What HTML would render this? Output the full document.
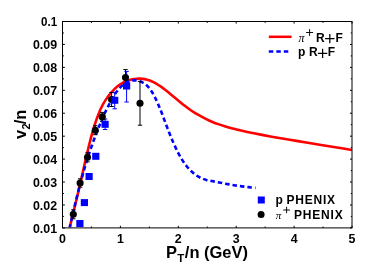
<!DOCTYPE html>
<html><head><meta charset="utf-8"><title>v2/n</title>
<style>
html,body{margin:0;padding:0;background:#fff;}
body{width:374px;height:270px;overflow:hidden;font-family:"Liberation Sans",sans-serif;}
svg{display:block;will-change:transform;}
text{font-family:"Liberation Sans",sans-serif;font-weight:bold;fill:#000;}
.sym{font-family:"Liberation Serif",serif;font-weight:normal;font-style:italic;}
.pl{font-family:"Liberation Sans",sans-serif;font-weight:normal;}
</style></head><body>
<svg width="374" height="270" viewBox="0 0 374 270">
<rect x="0" y="0" width="374" height="270" fill="#fff"/>
<path d="M69.80,227.10 C69.85,226.88 70.00,226.20 70.11,225.74 C70.21,225.28 70.32,224.82 70.43,224.36 C70.54,223.89 70.65,223.42 70.76,222.94 C70.88,222.46 70.99,221.98 71.11,221.48 C71.23,220.99 71.35,220.49 71.48,219.98 C71.60,219.47 71.73,218.96 71.86,218.43 C71.98,217.90 72.12,217.37 72.25,216.82 C72.38,216.27 72.52,215.72 72.66,215.15 C72.80,214.58 72.94,214.00 73.09,213.41 C73.24,212.81 73.39,212.21 73.54,211.59 C73.69,210.97 73.85,210.34 74.00,209.69 C74.16,209.04 74.32,208.38 74.49,207.71 C74.65,207.03 74.82,206.34 75.00,205.63 C75.17,204.92 75.34,204.19 75.52,203.45 C75.70,202.71 75.89,201.95 76.07,201.17 C76.26,200.39 76.45,199.59 76.65,198.77 C76.84,197.96 77.04,197.12 77.24,196.26 C77.45,195.40 77.65,194.53 77.87,193.63 C78.08,192.73 78.29,191.81 78.51,190.87 C78.74,189.92 78.96,188.96 79.19,187.97 C79.42,186.98 79.66,185.97 79.89,184.93 C80.13,183.89 80.38,182.83 80.63,181.74 C80.88,180.66 81.13,179.54 81.39,178.41 C81.65,177.27 81.92,176.10 82.19,174.91 C82.46,173.71 82.74,172.49 83.02,171.25 C83.31,170.00 83.59,168.72 83.89,167.41 C84.18,166.11 84.49,164.76 84.79,163.40 C85.10,162.05 85.41,160.68 85.73,159.29 C86.05,157.90 86.38,156.49 86.71,155.05 C87.05,153.62 87.39,152.17 87.74,150.70 C88.08,149.24 88.44,147.76 88.80,146.27 C89.16,144.79 89.53,143.30 89.91,141.81 C90.29,140.32 90.68,138.82 91.07,137.34 C91.46,135.85 91.87,134.37 92.28,132.91 C92.69,131.45 93.10,130.02 93.53,128.60 C93.96,127.18 94.40,125.77 94.84,124.39 C95.29,123.02 95.74,121.66 96.21,120.34 C96.67,119.02 97.15,117.75 97.63,116.47 C98.12,115.19 98.61,113.91 99.11,112.67 C99.62,111.44 100.13,110.23 100.66,109.08 C101.19,107.93 101.72,106.82 102.27,105.75 C102.82,104.69 103.38,103.67 103.95,102.68 C104.52,101.70 105.10,100.76 105.70,99.86 C106.29,98.96 106.90,98.13 107.52,97.28 C108.14,96.43 108.78,95.56 109.42,94.74 C110.07,93.91 110.73,93.10 111.40,92.34 C112.08,91.57 112.77,90.84 113.47,90.13 C114.17,89.42 114.89,88.74 115.62,88.06 C116.35,87.39 117.10,86.71 117.86,86.07 C118.63,85.44 119.40,84.79 120.20,84.26 C121.00,83.72 121.81,83.30 122.64,82.85 C123.46,82.41 124.31,81.98 125.17,81.60 C126.04,81.22 126.92,80.89 127.82,80.58 C128.72,80.27 129.64,79.99 130.58,79.74 C131.52,79.49 132.47,79.27 133.45,79.10 C134.43,78.93 135.43,78.80 136.45,78.72 C137.47,78.65 138.51,78.62 139.57,78.65 C140.63,78.68 141.71,78.75 142.82,78.89 C143.93,79.04 145.06,79.24 146.21,79.52 C147.37,79.80 148.54,80.14 149.75,80.58 C150.95,81.01 152.18,81.54 153.43,82.15 C154.68,82.76 155.96,83.45 157.27,84.24 C158.57,85.03 159.91,85.92 161.27,86.88 C162.63,87.85 164.02,88.95 165.44,90.05 C166.86,91.15 168.30,92.30 169.78,93.49 C171.26,94.68 172.77,95.91 174.31,97.19 C175.85,98.47 177.43,99.84 179.03,101.17 C180.64,102.50 182.28,103.86 183.95,105.17 C185.63,106.48 187.33,107.81 189.08,109.03 C190.82,110.26 192.60,111.40 194.42,112.52 C196.24,113.63 198.09,114.65 199.99,115.71 C201.89,116.76 203.82,117.83 205.79,118.83 C207.77,119.83 209.78,120.81 211.84,121.69 C213.90,122.58 216.00,123.37 218.15,124.14 C220.29,124.91 222.48,125.62 224.72,126.30 C226.95,126.99 229.24,127.63 231.57,128.25 C233.90,128.88 236.27,129.46 238.70,130.04 C241.13,130.62 243.61,131.17 246.14,131.71 C248.67,132.26 251.26,132.79 253.89,133.31 C256.53,133.84 259.22,134.36 261.97,134.87 C264.72,135.39 267.53,135.90 270.39,136.41 C273.26,136.93 276.18,137.44 279.17,137.96 C282.16,138.48 285.20,139.00 288.32,139.53 C291.43,140.06 294.60,140.59 297.85,141.13 C301.09,141.67 304.40,142.22 307.78,142.78 C311.17,143.34 314.61,143.91 318.14,144.48 C321.66,145.06 325.26,145.65 328.93,146.25 C332.60,146.85 336.35,147.46 340.18,148.09 C344.01,148.71 349.95,149.68 351.90,149.99" fill="none" stroke="#f00" stroke-width="2.6" stroke-linejoin="round"/>
<path d="M69.80,227.30 C69.85,227.10 69.98,226.50 70.07,226.09 C70.17,225.68 70.26,225.27 70.36,224.84 C70.45,224.41 70.55,223.98 70.65,223.54 C70.75,223.09 70.85,222.64 70.96,222.18 C71.06,221.72 71.17,221.26 71.27,220.78 C71.38,220.31 71.49,219.82 71.60,219.33 C71.72,218.83 71.83,218.33 71.94,217.82 C72.06,217.31 72.18,216.79 72.30,216.27 C72.42,215.74 72.54,215.20 72.67,214.66 C72.79,214.11 72.92,213.56 73.05,213.00 C73.18,212.44 73.31,211.87 73.44,211.29 C73.58,210.71 73.71,210.12 73.85,209.52 C73.99,208.93 74.13,208.32 74.28,207.70 C74.42,207.09 74.57,206.47 74.72,205.83 C74.87,205.20 75.02,204.56 75.18,203.91 C75.33,203.26 75.49,202.60 75.65,201.93 C75.82,201.26 75.98,200.58 76.15,199.90 C76.31,199.21 76.48,198.51 76.66,197.81 C76.83,197.10 77.01,196.39 77.19,195.66 C77.37,194.94 77.55,194.21 77.74,193.46 C77.93,192.72 78.12,191.97 78.31,191.21 C78.51,190.45 78.70,189.68 78.90,188.90 C79.10,188.12 79.31,187.33 79.52,186.53 C79.73,185.73 79.94,184.92 80.16,184.10 C80.37,183.29 80.59,182.46 80.82,181.62 C81.04,180.78 81.27,179.94 81.51,179.08 C81.74,178.23 81.98,177.36 82.22,176.48 C82.46,175.61 82.71,174.72 82.96,173.83 C83.21,172.93 83.46,172.03 83.72,171.11 C83.98,170.20 84.25,169.27 84.52,168.34 C84.79,167.41 85.06,166.48 85.34,165.55 C85.63,164.61 85.91,163.69 86.20,162.75 C86.49,161.81 86.79,160.86 87.09,159.91 C87.39,158.95 87.70,157.98 88.01,157.01 C88.32,156.04 88.64,155.06 88.97,154.07 C89.29,153.08 89.62,152.09 89.96,151.09 C90.30,150.08 90.64,149.08 90.99,148.06 C91.34,147.05 91.69,146.03 92.06,145.00 C92.42,143.97 92.79,142.92 93.17,141.87 C93.54,140.82 93.92,139.77 94.31,138.71 C94.71,137.66 95.10,136.59 95.51,135.52 C95.91,134.46 96.32,133.39 96.74,132.31 C97.17,131.23 97.59,130.15 98.03,129.07 C98.46,127.99 98.91,126.91 99.36,125.81 C99.81,124.71 100.27,123.60 100.74,122.47 C101.21,121.35 101.69,120.20 102.18,119.06 C102.66,117.93 103.16,116.80 103.66,115.67 C104.17,114.55 104.68,113.42 105.21,112.31 C105.73,111.20 106.26,110.11 106.81,109.01 C107.35,107.91 107.90,106.83 108.47,105.72 C109.03,104.61 109.61,103.46 110.19,102.36 C110.78,101.25 111.37,100.17 111.98,99.11 C112.59,98.04 113.20,97.00 113.83,95.99 C114.46,94.98 115.10,94.00 115.76,93.07 C116.41,92.13 117.08,91.24 117.75,90.37 C118.43,89.51 119.12,88.65 119.83,87.89 C120.53,87.13 121.25,86.47 121.98,85.83 C122.70,85.19 123.45,84.59 124.20,84.05 C124.96,83.51 125.73,83.02 126.52,82.59 C127.30,82.16 128.10,81.78 128.92,81.47 C129.73,81.16 130.56,80.90 131.41,80.72 C132.25,80.55 133.11,80.43 133.99,80.40 C134.87,80.37 135.76,80.41 136.67,80.53 C137.58,80.66 138.51,80.85 139.45,81.15 C140.40,81.45 141.36,81.80 142.34,82.32 C143.32,82.84 144.31,83.43 145.33,84.25 C146.34,85.06 147.38,86.00 148.43,87.21 C149.49,88.41 150.56,89.79 151.66,91.47 C152.75,93.16 153.86,95.09 155.00,97.32 C156.13,99.56 157.29,102.15 158.46,104.89 C159.64,107.64 160.84,110.64 162.06,113.79 C163.28,116.93 164.53,120.42 165.79,123.76 C167.06,127.10 168.35,130.56 169.67,133.84 C170.98,137.12 172.32,140.37 173.68,143.43 C175.05,146.49 176.44,149.45 177.85,152.19 C179.27,154.93 180.71,157.54 182.18,159.88 C183.64,162.21 185.14,164.30 186.66,166.20 C188.19,168.09 189.74,169.73 191.32,171.24 C192.90,172.75 194.51,174.13 196.15,175.26 C197.79,176.40 199.45,177.28 201.16,178.05 C202.86,178.81 204.59,179.39 206.35,179.88 C208.12,180.37 209.92,180.64 211.75,181.01 C213.58,181.38 215.44,181.72 217.34,182.10 C219.24,182.48 221.17,182.90 223.15,183.28 C225.12,183.66 227.12,184.03 229.17,184.39 C231.21,184.74 233.29,185.09 235.42,185.41 C237.54,185.74 239.70,186.05 241.90,186.34 C244.10,186.63 246.34,186.91 248.62,187.16 C250.91,187.41 254.44,187.74 255.60,187.86" fill="none" stroke="#00f" stroke-width="2.6" stroke-dasharray="4.5 3" stroke-dashoffset="1.3" stroke-linejoin="round"/>
<path d="M105.1,119.0V129.5M102.9,119.0H107.3M102.9,129.5H107.3" stroke="#00f" stroke-width="1" fill="none"/>
<path d="M114.7,92.3V108.8M112.5,92.3H116.9M112.5,108.8H116.9" stroke="#00f" stroke-width="1" fill="none"/>
<path d="M126.6,71.4V102.0M124.4,71.4H128.8M124.4,102.0H128.8" stroke="#00f" stroke-width="1" fill="none"/>
<path d="M73.3,209.8V218.8M71.1,209.8H75.5M71.1,218.8H75.5" stroke="#000" stroke-width="1" fill="none"/>
<circle cx="73.3" cy="214.3" r="3.55" fill="#000"/>
<path d="M80.1,178.8V187.2M77.9,178.8H82.3M77.9,187.2H82.3" stroke="#000" stroke-width="1" fill="none"/>
<circle cx="80.1" cy="183.0" r="3.55" fill="#000"/>
<path d="M87.5,152.8V161.8M85.3,152.8H89.7M85.3,161.8H89.7" stroke="#000" stroke-width="1" fill="none"/>
<circle cx="87.5" cy="157.3" r="3.55" fill="#000"/>
<path d="M95.3,125.7V134.7M93.1,125.7H97.5M93.1,134.7H97.5" stroke="#000" stroke-width="1" fill="none"/>
<circle cx="95.3" cy="130.2" r="3.55" fill="#000"/>
<path d="M102.3,112.4V121.4M100.1,112.4H104.5M100.1,121.4H104.5" stroke="#000" stroke-width="1" fill="none"/>
<circle cx="102.3" cy="116.9" r="3.55" fill="#000"/>
<path d="M111.6,92.5V106.5M109.4,92.5H113.8M109.4,106.5H113.8" stroke="#000" stroke-width="1" fill="none"/>
<circle cx="111.6" cy="99.5" r="3.55" fill="#000"/>
<path d="M125.5,69.6V85.6M123.3,69.6H127.7M123.3,85.6H127.7" stroke="#000" stroke-width="1" fill="none"/>
<circle cx="125.5" cy="77.6" r="3.55" fill="#000"/>
<path d="M140.0,81.4V125.2M137.8,81.4H142.2M137.8,125.2H142.2" stroke="#000" stroke-width="1" fill="none"/>
<circle cx="140.0" cy="103.3" r="3.55" fill="#000"/>
<rect x="76.3" y="220.0" width="7.2" height="7" fill="#00f"/>
<rect x="80.8" y="199.1" width="7.2" height="7" fill="#00f"/>
<rect x="85.5" y="173.0" width="7.2" height="7" fill="#00f"/>
<rect x="92.2" y="152.8" width="7.2" height="7" fill="#00f"/>
<rect x="101.5" y="120.8" width="7.2" height="7" fill="#00f"/>
<rect x="111.1" y="96.8" width="7.2" height="7" fill="#00f"/>
<rect x="123.0" y="82.5" width="7.2" height="7" fill="#00f"/>
<rect x="62.5" y="21.5" width="289.5" height="206.4" fill="none" stroke="#000" stroke-width="1"/>
<path d="M62.50,227.90v-2.1M62.50,21.50v2.1M91.45,227.90v-1.4M91.45,21.50v1.4M120.40,227.90v-2.1M120.40,21.50v2.1M149.35,227.90v-1.4M149.35,21.50v1.4M178.30,227.90v-2.1M178.30,21.50v2.1M207.25,227.90v-1.4M207.25,21.50v1.4M236.20,227.90v-2.1M236.20,21.50v2.1M265.15,227.90v-1.4M265.15,21.50v1.4M294.10,227.90v-2.1M294.10,21.50v2.1M323.05,227.90v-1.4M323.05,21.50v1.4M352.00,227.90v-2.1M352.00,21.50v2.1M62.50,227.90h2.4M352.00,227.90h-2.0M62.50,216.43h1.4M352.00,216.43h-1.2M62.50,204.97h2.4M352.00,204.97h-2.0M62.50,193.50h1.4M352.00,193.50h-1.2M62.50,182.03h2.4M352.00,182.03h-2.0M62.50,170.57h1.4M352.00,170.57h-1.2M62.50,159.10h2.4M352.00,159.10h-2.0M62.50,147.63h1.4M352.00,147.63h-1.2M62.50,136.17h2.4M352.00,136.17h-2.0M62.50,124.70h1.4M352.00,124.70h-1.2M62.50,113.23h2.4M352.00,113.23h-2.0M62.50,101.77h1.4M352.00,101.77h-1.2M62.50,90.30h2.4M352.00,90.30h-2.0M62.50,78.83h1.4M352.00,78.83h-1.2M62.50,67.37h2.4M352.00,67.37h-2.0M62.50,55.90h1.4M352.00,55.90h-1.2M62.50,44.43h2.4M352.00,44.43h-2.0M62.50,32.97h1.4M352.00,32.97h-1.2M62.50,21.50h2.4M352.00,21.50h-2.0" stroke="#000" stroke-width="1" fill="none"/>
<text x="62.5" y="242.8" font-size="12.4" text-anchor="middle">0</text>
<text x="120.4" y="242.8" font-size="12.4" text-anchor="middle">1</text>
<text x="178.3" y="242.8" font-size="12.4" text-anchor="middle">2</text>
<text x="236.2" y="242.8" font-size="12.4" text-anchor="middle">3</text>
<text x="294.1" y="242.8" font-size="12.4" text-anchor="middle">4</text>
<text x="352.0" y="242.8" font-size="12.4" text-anchor="middle">5</text>
<text x="57.1" y="232.7" font-size="12.4" text-anchor="end">0.01</text>
<text x="57.1" y="209.7" font-size="12.4" text-anchor="end">0.02</text>
<text x="57.1" y="186.7" font-size="12.4" text-anchor="end">0.03</text>
<text x="57.1" y="163.7" font-size="12.4" text-anchor="end">0.04</text>
<text x="57.1" y="140.7" font-size="12.4" text-anchor="end">0.05</text>
<text x="57.1" y="117.7" font-size="12.4" text-anchor="end">0.06</text>
<text x="57.1" y="94.7" font-size="12.4" text-anchor="end">0.07</text>
<text x="57.1" y="71.7" font-size="12.4" text-anchor="end">0.08</text>
<text x="57.1" y="48.7" font-size="12.4" text-anchor="end">0.09</text>
<text x="57.1" y="25.7" font-size="12.4" text-anchor="end" textLength="16.1" lengthAdjust="spacingAndGlyphs">0.1</text>
<text x="166.1" y="258.4" font-size="16.5">P</text>
<text x="177.3" y="262" font-size="11.5">T</text>
<text x="184.8" y="258.4" font-size="16.5">/n (GeV)</text>
<g transform="translate(25.8,139.1) rotate(-90)"><text x="0" y="0" font-size="16.5">v</text><text x="9.7" y="3.7" font-size="11">2</text><text x="14.9" y="0" font-size="16.5">/n</text></g>
<path d="M268.8,36.8H291.6" stroke="#f00" stroke-width="2.5"/>
<path d="M268.8,51.5H288.3" stroke="#00f" stroke-width="2.5" stroke-dasharray="4.5 3"/>
<text class="sym" x="298.6" y="41.8" font-size="12">π</text>
<path d="M306.10,32.50H313.10M309.60,29.10V35.90" stroke="#000" stroke-width="0.95" fill="none"/>
<text x="316.1" y="41.7" font-size="12">R</text>
<path d="M325.10,38.60H334.50M329.80,34.00V43.20" stroke="#000" stroke-width="1.25" fill="none"/>
<text x="335.5" y="41.7" font-size="12">F</text>
<text x="297.9" y="56.4" font-size="12">p</text>
<text x="309" y="56.4" font-size="12">R</text>
<path d="M317.90,53.40H327.30M322.60,48.80V58.00" stroke="#000" stroke-width="1.25" fill="none"/>
<text x="327.8" y="56.4" font-size="12">F</text>
<rect x="257.8" y="196.5" width="7" height="7" fill="#00f"/>
<circle cx="261.1" cy="214.6" r="3.5" fill="#000"/>
<text x="275.4" y="204" font-size="12">p</text>
<text x="286.4" y="204" font-size="12" letter-spacing="0.8">PHENIX</text>
<text class="sym" x="275.8" y="218.9" font-size="11">π</text>
<path d="M283.20,210.00H290.00M286.60,206.80V213.20" stroke="#000" stroke-width="0.95" fill="none"/>
<text x="294.0" y="218.8" font-size="12" letter-spacing="0.8">PHENIX</text>
</svg>
</body></html>
